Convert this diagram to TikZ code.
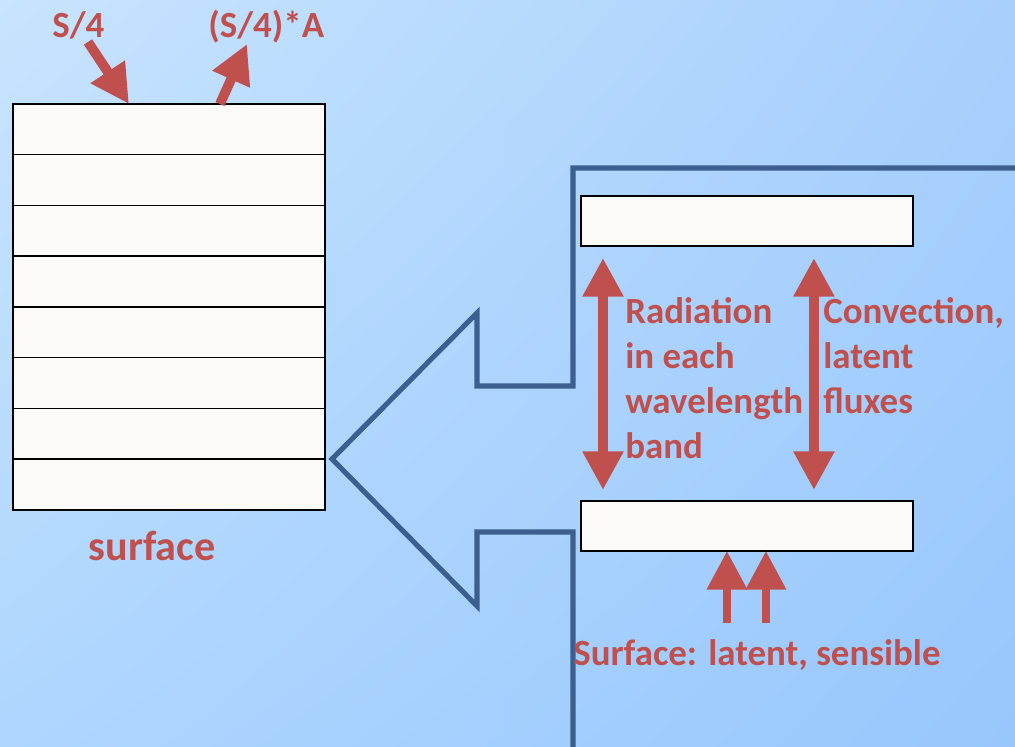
\documentclass[tikz,border=0pt]{standalone}
\usepackage{fontspec}
\setmainfont{Carlito}
\usetikzlibrary{arrows.meta,shadings}
\definecolor{rd}{HTML}{C0504D}
\definecolor{bl}{HTML}{3B5F8E}
\definecolor{bx}{HTML}{FBFAF8}
\definecolor{bgul}{RGB}{200,228,254}
\definecolor{bgur}{RGB}{168,208,253}
\definecolor{bgll}{RGB}{174,214,254}
\definecolor{bglr}{RGB}{152,199,253}
\tikzset{
  layer/.style={draw=black,fill=bx,line width=0.85pt,minimum width=6.24cm,minimum height=1.015cm,anchor=north west,inner sep=0pt,outer sep=0pt},
  slab/.style={layer,minimum width=6.64cm,minimum height=1cm},
  lbl/.style={text=rd,font=\fontsize{21}{25.6}\selectfont\bfseries,inner sep=0pt},
  flux/.style={draw=rd,line width=5.6pt,-{Triangle[width=22pt,length=22pt]}},
  flux2/.style={flux,{Triangle[width=22pt,length=22pt]}-{Triangle[width=22pt,length=22pt]}},
  upflux/.style={flux,line width=4.6pt}
}
\begin{document}
\begin{tikzpicture}[x=0.02cm,y=-0.02cm]
\useasboundingbox (0,0) rectangle (1015,747);
\shade[upper left=bgul,upper right=bgur,lower left=bgll,lower right=bglr] (0,0) rectangle (1015,747);
\begin{scope}
\clip (0,0) rectangle (1015,747);
\draw[bl,line width=2.9pt,line join=miter] (1030,168) -- (573,168) -- (573,386) -- (477,386) -- (477,313) -- (332,459) -- (477,606) -- (477,532) -- (573,532) -- (573,760);
\end{scope}
\node[layer] (s1) at (13,104) {}; \node[layer] (s2) at (13,154.75) {};
\node[layer] (s3) at (13,205.5) {}; \node[layer] (s4) at (13,256.25) {};
\node[layer] (s5) at (13,307) {}; \node[layer] (s6) at (13,357.75) {};
\node[layer] (s7) at (13,408.5) {}; \node[layer] (s8) at (13,459.25) {};
\node[lbl,font=\fontsize{24}{28}\selectfont\bfseries,anchor=base] (surf) at (152,560) {surface};
\node[lbl,anchor=base west] (sin) at (52,37) {S/4};
\node[lbl,anchor=base west] (sout) at (208,37) {(S/4)*A};
\coordinate (sintail) at (88,42); \coordinate (souttip) at (247,44);
\draw[flux] (sintail) -- ([xshift=2.32cm]s1.north west);
\draw[flux] ([xshift=4.14cm]s1.north west) -- (souttip);
\node[slab] (top) at (581,196) {};
\node[slab] (bot) at (581,501) {};
\draw[flux2] ([xshift=0.44cm,yshift=-0.24cm]top.south west) -- ([xshift=0.44cm,yshift=0.22cm]bot.north west);
\draw[flux2] ([xshift=4.66cm,yshift=-0.24cm]top.south west) -- ([xshift=4.66cm,yshift=0.22cm]bot.north west);
\node[lbl,align=left,anchor=north west] (rad) at (625,297) {Radiation\\in each\\wavelength\\band};
\node[lbl,align=left,anchor=north west] (conv) at (823,297) {Convection,\\latent\\fluxes};
\draw[upflux] ([xshift=2.92cm,yshift=-1.44cm]bot.south west) -- ([xshift=2.92cm]bot.south west);
\draw[upflux] ([xshift=3.7cm,yshift=-1.44cm]bot.south west) -- ([xshift=3.7cm]bot.south west);
\node[lbl,anchor=base west] (sfc) at (573,665) {Surface: latent, sensible};
\end{tikzpicture}
\end{document}
